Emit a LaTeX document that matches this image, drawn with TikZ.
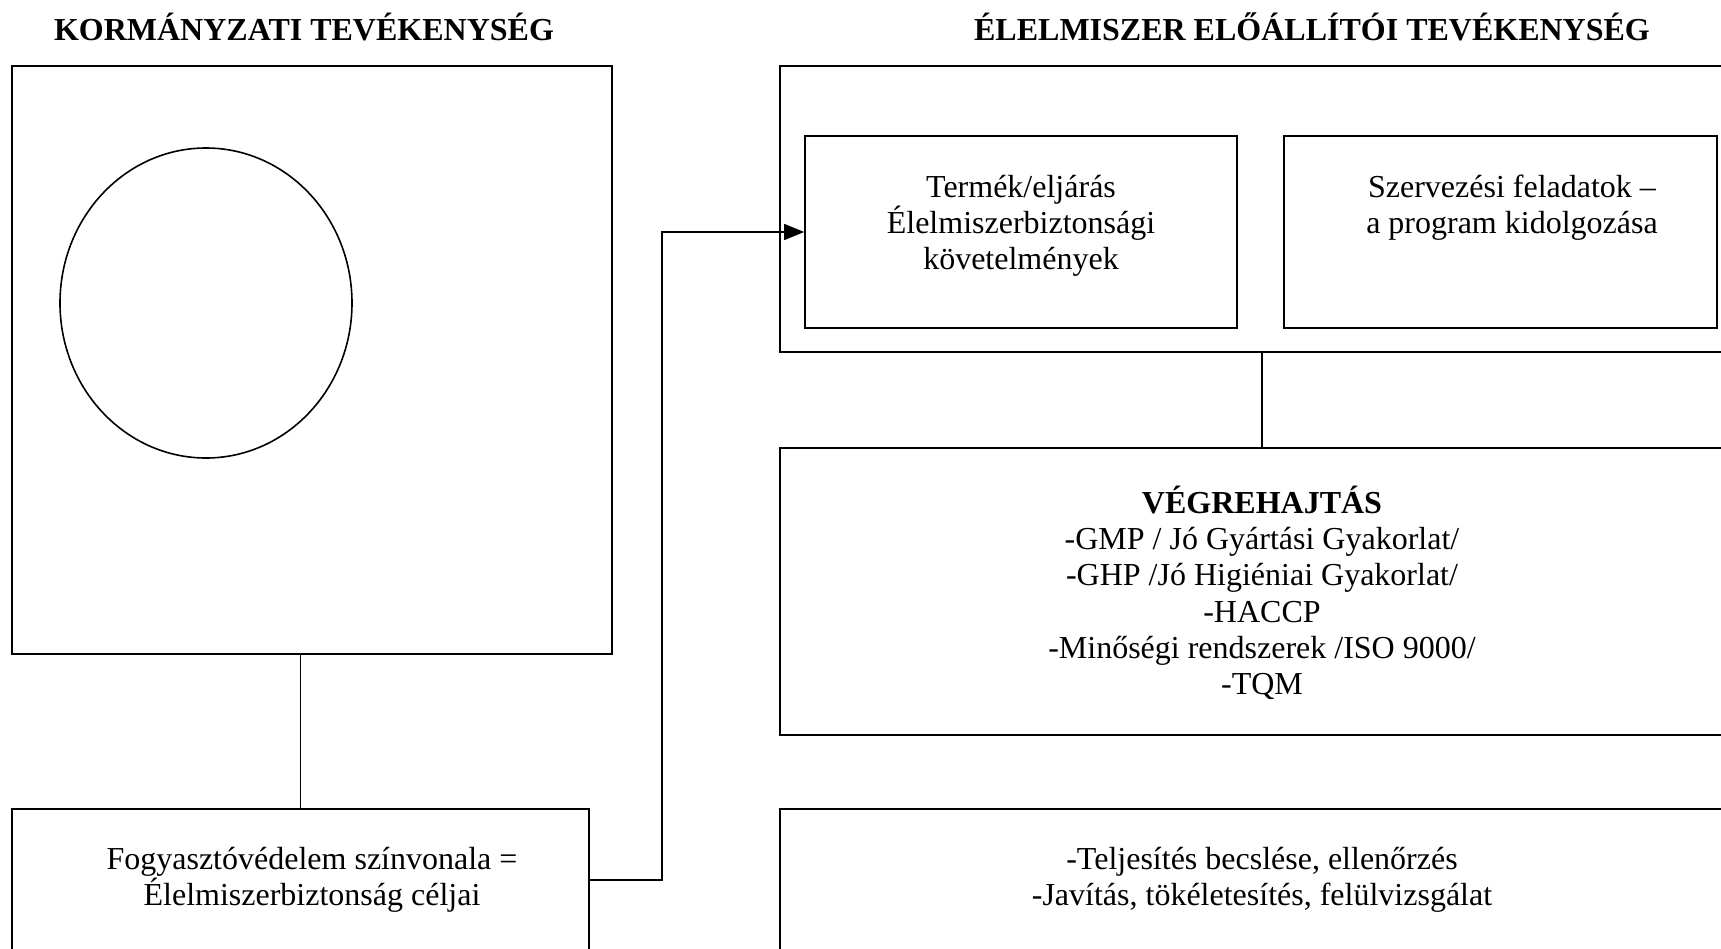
\documentclass[tikz,border=0pt]{standalone}
\usepackage{fontspec}
\setmainfont{Liberation Serif}
\usetikzlibrary{arrows.meta,shapes.geometric}

\begin{document}
\begin{tikzpicture}[x=1pt,y=-1pt,
  frame/.style={draw,line width=1.6pt,rectangle,inner sep=0pt},
  txt/.style={align=center,inner sep=0pt,font=\fontsize{32}{36.3}\selectfont},
  heading/.style={inner sep=0pt,font=\fontsize{32}{36}\selectfont\bfseries},
  link/.style={draw,line width=1.6pt}]
\fill[white] (0,0) rectangle (1721,948);
\clip (0,0) rectangle (1721,948);

% column headings
\node[heading] (tgov) at (304,27) {KORMÁNYZATI TEVÉKENYSÉG};
\node[heading] (tfood) at (1312,27) {ÉLELMISZER ELŐÁLLÍTÓI TEVÉKENYSÉG};

% government side
\node[frame,minimum width=600pt,minimum height=588pt] (gov) at (312,360) {};
\node[draw,ellipse,line width=1.6pt,minimum width=292pt,minimum height=310pt] (circ) at (206,303) {};
\node[frame,minimum width=577pt,minimum height=142pt] (goal) at (300.5,880) {};
\node[txt] (goaltxt) at (312,880) {Fogyasztóvédelem színvonala =\\Élelmiszerbiztonság céljai};

% food producer side
\node[frame,minimum width=964pt,minimum height=286pt] (outer) at (1262,209) {};
\node[frame,minimum width=432pt,minimum height=192pt] (prod) at (1021,232) {};
\node[txt] (prodtxt) at (1021,226) {Termék/eljárás\\Élelmiszerbiztonsági\\követelmények};
\node[frame,minimum width=433pt,minimum height=192pt] (org) at (1500.5,232) {};
\node[txt] (orgtxt) at (1512,208) {Szervezési feladatok –\\a program kidolgozása};

\node[frame,minimum width=964pt,minimum height=287pt] (exec) at (1262,591.5) {};
\node[txt] (exectxt) at (1262,593) {\textbf{VÉGREHAJTÁS}\\-GMP / Jó Gyártási Gyakorlat/\\-GHP /Jó Higiéniai Gyakorlat/\\-HACCP\\-Minőségi rendszerek /ISO 9000/\\-TQM};

\node[frame,minimum width=964pt,minimum height=142pt] (eval) at (1262,880) {};
\node[txt] (evaltxt) at (1262,880) {-Teljesítés becslése, ellenőrzés\\-Javítás, tökéletesítés, felülvizsgálat};

% connectors
\draw[link] (goal.north) -- (goal.north |- gov.south);
\draw[link] (exec.north) -- (exec.north |- outer.south);
\draw[link,-{Triangle[length=20pt,width=16pt]}] (goal.east) -- ++(72,0) |- (prod.west);
\end{tikzpicture}
\end{document}
